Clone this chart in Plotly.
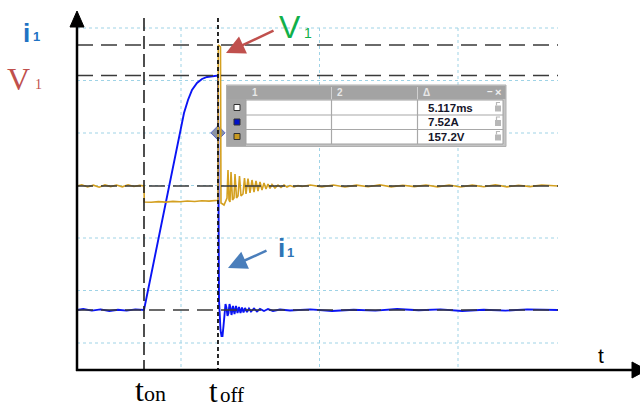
import plotly.graph_objects as go

W, H = 640, 410

# ---------------- data (read from the scope capture) ----------------
t_on = 0.0            # ms
t_off = 5.117         # ms  (cursor delta)
i_peak = 7.52         # A
v_peak = 157.2        # V
v_base = 24.0         # V   yellow baseline
i_base = 0.0          # A
i_marker = 5.68       # A   cursor diamond on i1 at t_off

# current i1 (A) vs time (ms)
i_t = [-4.633, -4.2, -3.6, -3.0, -2.4, -1.8, -1.2, -0.6, 0.0,
       0.415, 0.761, 1.107, 1.452, 1.798, 2.144, 2.490, 2.766, 3.043, 3.320,
       3.665, 4.011, 4.357, 4.703, 5.117,
       5.187, 5.221, 5.290, 5.360, 5.429, 5.498, 5.567, 5.636, 5.705, 5.775,
       5.844, 5.913, 5.982, 6.051, 6.155, 6.259, 6.362, 6.466, 6.570, 6.674,
       6.777, 6.881, 6.985, 7.123, 7.261, 7.400, 7.607, 7.815, 8.022, 8.299,
       8.575, 8.921, 9.405, 10.097,
       11.5, 13.0, 14.5, 16.0, 17.5, 19.0, 20.5, 22.0, 23.5, 25.0, 26.5, 28.63]
i_val = [0.0, 0.03, -0.02, 0.02, -0.03, 0.01, -0.02, 0.02, 0.0,
         0.962, 1.764, 2.566, 3.368, 4.169, 4.907, 5.677, 6.318, 6.735, 7.056,
         7.280, 7.409, 7.473, 7.505, 7.52,
         0.321, -0.257, -0.641, -0.834, -0.834, -0.513, -0.064, 0.192, 0.064, -0.192,
         -0.096, 0.192, 0.064, -0.160, 0.128, -0.128, 0.128, -0.096, 0.096, -0.096,
         0.080, -0.080, 0.064, -0.064, 0.048, -0.048, 0.048, -0.048, 0.032, -0.032,
         0.032, -0.032, 0.016, -0.016,
         0.02, -0.03, 0.01, -0.02, 0.03, -0.01, 0.02, -0.03, 0.01, -0.02, 0.02, 0.0]

# voltage V1 (V) vs time (ms)
v_t = [-4.633, -4.3, -3.9, -3.5, -3.1, -2.7, -2.3, -1.9, -1.5, -1.1, -0.7, -0.3, 0.0,
       0.02, 0.5, 1.0, 1.5, 2.0, 2.5, 3.0, 3.5, 4.0, 4.5, 5.0, 5.117,
       5.138, 5.29, 5.325,
       5.533, 5.740, 5.809, 5.878, 5.947, 6.017, 6.120, 6.224, 6.293, 6.397,
       6.501, 6.604, 6.708, 6.846, 6.950, 7.054, 7.192, 7.331, 7.469, 7.607,
       7.746, 7.884, 8.022, 8.160, 8.299, 8.437, 8.575, 8.714, 8.852, 9.059,
       9.267, 9.474, 9.682, 9.889, 10.097, 10.373, 10.650, 10.927,
       11.5, 12.3, 13.1, 13.9, 14.7, 15.5, 16.3, 17.1, 17.9, 18.7, 19.5,
       20.3, 21.1, 21.9, 22.7, 23.5, 24.3, 25.1, 25.9, 26.7, 27.5, 28.63]
v_val = [24.0, 25.2, 23.1, 24.8, 22.9, 25.0, 23.4, 24.9, 23.2, 25.1, 23.5, 24.6, 24.0,
         8.9, 8.6, 9.2, 8.8, 9.5, 9.1, 9.8, 9.4, 10.0, 9.7, 10.3, 10.5,
         157.2, 155.5, 7.9,
         6.05, 12.66, 39.11, 10.77, 8.88, 37.22, 10.77, 12.66, 35.33, 12.66,
         14.55, 33.44, 14.55, 16.44, 31.55, 16.44, 31.08, 17.38, 29.66, 18.33,
         28.72, 19.27, 27.77, 20.21, 26.83, 21.16, 25.88, 21.63, 25.41, 22.10,
         24.94, 22.58, 24.94, 23.05, 24.47, 23.05, 24.47, 23.52,
         24.9, 23.2, 25.0, 23.1, 24.8, 23.3, 25.1, 23.2, 24.7, 23.4, 25.0,
         23.2, 24.9, 23.1, 24.8, 23.3, 25.1, 23.2, 24.7, 23.4, 24.9, 24.0]

cursor_values = ["5.117ms", "7.52A", "157.2V"]
cursor_header = ["1", "2", "\u0394"]

# ---------------- layout calibration (pixels) ----------------
X0_PX, PX_PER_MS = 144.0, 14.46
I0_PX, PX_PER_A = 310.0, 31.18
V0_PX, PX_PER_V = 211.4, 1.0586

xr = [(0 - X0_PX) / PX_PER_MS, (W - X0_PX) / PX_PER_MS]
yr = [(I0_PX - H) / PX_PER_A, I0_PX / PX_PER_A]
y2r = [(V0_PX - H) / PX_PER_V, V0_PX / PX_PER_V]


def px(x):
    return x / W


def py(y):
    return 1 - y / H


PLOT_L, PLOT_R = 77, 558
GRID_T, AXIS_Y = 28, 370

fig = go.Figure()
fig.add_trace(go.Scatter(x=v_t, y=v_val, yaxis="y2", mode="lines",
                         line=dict(color="#D4A020", width=1.6), hoverinfo="skip"))
fig.add_trace(go.Scatter(x=i_t, y=i_val, mode="lines",
                         line=dict(color="#0A14F5", width=1.9), hoverinfo="skip"))
fig.add_trace(go.Scatter(x=[t_off], y=[i_marker], mode="markers",
                         marker=dict(symbol="diamond", size=11, color="#8A93A3",
                                     line=dict(color="#5868C8", width=1)),
                         hoverinfo="skip"))

shapes = []
# dotted scope grid
GRID = "#9FD3E6"
for gy in [28, 80.5, 133, 185.5, 238, 290.5, 343]:
    shapes.append(dict(type="line", xref="paper", yref="paper", layer="below",
                       x0=px(PLOT_L), x1=px(PLOT_R), y0=py(gy), y1=py(gy),
                       line=dict(color=GRID, width=1, dash="3px,3px")))
for gx in [181, 319.5, 458]:
    shapes.append(dict(type="line", xref="paper", yref="paper", layer="below",
                       x0=px(gx), x1=px(gx), y0=py(GRID_T), y1=py(AXIS_Y),
                       line=dict(color=GRID, width=1, dash="3px,3px")))

# dashed reference levels
DK = "#3A3A3A"
for yv, yref in [(v_peak, "y2"), (i_peak, "y"), (v_base, "y2"), (i_base, "y")]:
    shapes.append(dict(type="line", xref="paper", yref=yref,
                       x0=px(PLOT_L), x1=px(PLOT_R), y0=yv, y1=yv,
                       line=dict(color=DK, width=1.6, dash="16px,8px")))
shapes.append(dict(type="line", xref="x", yref="paper", x0=t_on, x1=t_on,
                   y0=py(18), y1=py(AXIS_Y), line=dict(color="#222", width=1.6, dash="13px,5px")))
shapes.append(dict(type="line", xref="x", yref="paper", x0=t_off, x1=t_off,
                   y0=py(18), y1=py(AXIS_Y), line=dict(color="#111", width=1.8, dash="4px,3px")))

# axes with arrow heads
shapes.append(dict(type="line", xref="paper", yref="paper", x0=px(77), x1=px(77),
                   y0=py(371), y1=py(24), line=dict(color="black", width=2.5)))
shapes.append(dict(type="line", xref="paper", yref="paper", x0=px(76), x1=px(634),
                   y0=py(370), y1=py(370), line=dict(color="black", width=2.5)))
shapes.append(dict(type="path", xref="paper", yref="paper",
                   path=f"M {px(70)},{py(27)} L {px(77)},{py(11)} L {px(84)},{py(27)} Z",
                   fillcolor="black", line=dict(color="black", width=1)))
shapes.append(dict(type="path", xref="paper", yref="paper",
                   path=f"M {px(632)},{py(362)} L {px(647)},{py(370)} L {px(632)},{py(378)} Z",
                   fillcolor="black", line=dict(color="black", width=1)))

# cursor measurement box
def rect(x0, y0, x1, y1, fill, line=None, lw=1):
    return dict(type="rect", xref="paper", yref="paper", x0=px(x0), x1=px(x1),
                y0=py(y1), y1=py(y0), fillcolor=fill,
                line=dict(color=line or fill, width=lw if line else 0))

shapes.append(rect(226.5, 85, 506, 146.5, "#C4C4C4", "#B0B0B0"))
shapes.append(rect(227, 86, 505.5, 99, "#A3A3A3"))
shapes.append(rect(227, 99, 246, 146, "#A6A6A6"))
shapes.append(rect(246, 100, 503, 144, "white", "#A0A0A0"))
for cx in [331.5, 417.5]:
    shapes.append(dict(type="line", xref="paper", yref="paper", x0=px(cx), x1=px(cx),
                       y0=py(100), y1=py(144), line=dict(color="#A8A8A8", width=1.2)))
    shapes.append(dict(type="line", xref="paper", yref="paper", x0=px(cx), x1=px(cx),
                       y0=py(87), y1=py(99), line=dict(color="#D0D0D0", width=1)))
for ry in [115, 129.5]:
    shapes.append(dict(type="line", xref="paper", yref="paper", x0=px(246), x1=px(503),
                       y0=py(ry), y1=py(ry), line=dict(color="#A8A8A8", width=1.2)))
ROW_Y = [107.5, 122, 136.5]
for ry, col in zip(ROW_Y, ["white", "#0010C8", "#C89A20"]):
    shapes.append(rect(234, ry - 3, 240, ry + 3, col, "#303030"))
    shapes.append(rect(495, ry - 2, 501, ry + 4, "#B8B8B8"))
    shapes.append(dict(type="path", xref="paper", yref="paper",
                       path=f"M {px(496.5)},{py(ry-2)} L {px(496.5)},{py(ry-5)} L {px(500)},{py(ry-5)}",
                       line=dict(color="#B8B8B8", width=1.2)))

annotations = []


def txt(x, y, s, size, color, family="Liberation Sans", anchor="center"):
    annotations.append(dict(x=px(x), y=py(y), xref="paper", yref="paper", text=s,
                            showarrow=False, xanchor=anchor, yanchor="middle",
                            font=dict(size=size, color=color, family=family)))

for x, s in zip([250, 335, 421], cursor_header):
    txt(x, 93, f"<b>{s}</b>", 10, "#E8E8E8", anchor="left")
txt(490, 92, "<b>\u2013</b>", 10, "#F0F0F0")
txt(497.5, 92, "<b>\u00d7</b>", 11, "#F0F0F0")
for ry, s in zip(ROW_Y, cursor_values):
    txt(426, ry, f"<b>{s}</b>", 11.5, "#15152A", anchor="left")

# labels
SERIF = "Liberation Serif"
txt(26, 33, "<b>i</b>", 26, "#1F73C4")
txt(36, 36.5, "<b>1</b>", 13, "#1F73C4")
txt(18, 79, "V", 32, "#C0504D", SERIF)
txt(38.5, 85, "1", 14, "#C0504D", SERIF)
txt(290, 27, "V", 32, "#10B04A")
txt(307.5, 33, "1", 14, "#10B04A")
txt(281.5, 248, "<b>i</b>", 26, "#2E75B6")
txt(290.5, 252.5, "<b>1</b>", 13, "#2E75B6")
txt(601, 355, "t", 21, "black")
txt(139, 390, "t", 32, "black", SERIF)
txt(155, 393, "on", 22, "black", SERIF)
txt(213, 391, "t", 31, "black", SERIF)
txt(231.5, 395, "off", 21, "black", SERIF)

# pointer arrows
annotations.append(dict(x=px(226), y=py(53), xref="paper", yref="paper", text="",
                        showarrow=True, ax=49, ay=-23, arrowhead=2, arrowsize=1.5,
                        arrowwidth=2.5, arrowcolor="#C0504D", standoff=0))
annotations.append(dict(x=px(228), y=py(268), xref="paper", yref="paper", text="",
                        showarrow=True, ax=40, ay=-18, arrowhead=2, arrowsize=1.5,
                        arrowwidth=2.5, arrowcolor="#4A7EBB", standoff=0))

fig.update_layout(
    width=W, height=H, margin=dict(l=0, r=0, t=0, b=0),
    paper_bgcolor="white", plot_bgcolor="white", showlegend=False,
    xaxis=dict(range=xr, visible=False, fixedrange=True),
    yaxis=dict(range=yr, visible=False, fixedrange=True),
    yaxis2=dict(range=y2r, visible=False, overlaying="y", fixedrange=True),
    shapes=shapes, annotations=annotations,
)
fig.write_html("out.html")
